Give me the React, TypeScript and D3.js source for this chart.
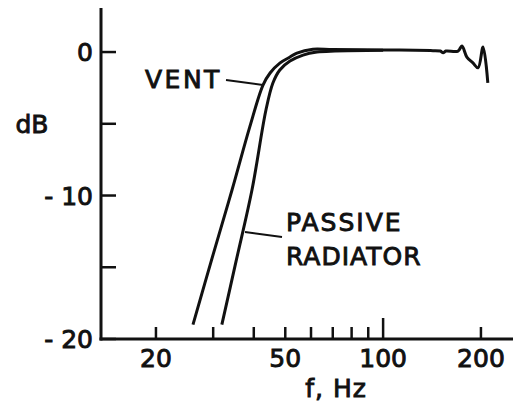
import React from 'react';
import * as d3 from 'd3';

// frequency response (Hz, dB)
const ventFreq = [26.0, 30, 34.3, 38.9, 42.7, 44.9, 48.1, 51.7, 54.3, 60.8, 70, 100, 140, 150, 153, 156, 170, 174.8, 181, 189, 196, 203, 210];
const ventDb = [-19.0, -14.1, -9.6, -5.2, -2.3, -1.46, -0.77, -0.35, -0.07, 0.2, 0.17, 0.15, 0.1, 0.07, -0.05, 0.07, 0.07, 0.42, -0.35, -0.76, -1.1, 0.35, -2.15];

const passiveFreq = [31.9, 35.3, 39.5, 43.6, 45.8, 48.1, 51.7, 56.7, 62.6, 71.1, 100];
const passiveDb = [-19.0, -14.56, -9.6, -4.04, -2.16, -1.25, -0.63, -0.21, 0, 0.07, 0.12];

const yTicks = [0, -5, -10, -15, -20];
const yTickLabels = ['0', '- 10', '- 20'];
const yLabelValues = [0, -10, -20];
const xTicks = [20, 30, 40, 50, 60, 70, 80, 90, 100, 200];
const xTickLabels = [20, 50, 100, 200];

const W = 517, H = 410;
const font = '"DejaVu Sans", sans-serif';

const App = () => {
  const x = d3.scaleLog().domain([13.55, 251]).range([101, 513]);
  const y = d3.scaleLinear().domain([-20, 3.07]).range([339, 8]);

  const line = d3.line<[number, number]>()
    .x(d => x(d[0]))
    .y(d => y(d[1]))
    .curve(d3.curveCatmullRom.alpha(0.5));

  const vent = line(ventFreq.map((f, i) => [f, ventDb[i]]));
  const passive = line(passiveFreq.map((f, i) => [f, passiveDb[i]]));

  const x0 = x.range()[0];
  const yBottom = y(-20);

  // lettering in the original is drawn with a heavy pen
  const txt = { fontSize: 25, stroke: '#111', strokeWidth: 0.9 };

  return (
    <svg width={W} height={H} style={{ position: 'absolute', left: 0, top: 0, background: '#fff' }}
      fontFamily={font} fill="#111">
      {/* axes */}
      <line x1={x0} x2={x0} y1={y.range()[1]} y2={yBottom + 1.5} stroke="#111" strokeWidth={3} />
      <line x1={x0 - 1.5} x2={x.range()[1]} y1={yBottom} y2={yBottom} stroke="#111" strokeWidth={3} />

      {yTicks.map(t => (
        <line key={t} x1={x0} x2={x0 + 15} y1={y(t)} y2={y(t)} stroke="#111" strokeWidth={2.5} />
      ))}
      {yLabelValues.map((v, i) => (
        <text key={v} x={93} y={y(v)} dy="0.36em" textAnchor="end" {...txt}>{yTickLabels[i]}</text>
      ))}
      <text x={32} y={y(-5)} dy="0.36em" textAnchor="middle" {...txt}>dB</text>

      {xTicks.map(t => (
        <line key={t} x1={x(t)} x2={x(t)} y1={yBottom} y2={yBottom - (t === 100 ? 21 : 12)} stroke="#111" strokeWidth={2.5} />
      ))}
      {xTickLabels.map(t => (
        <text key={t} x={x(t)} y={367} textAnchor="middle" {...txt}>{t}</text>
      ))}
      <text x={336} y={397} textAnchor="middle" letterSpacing={1} {...txt}>f,  Hz</text>

      {/* curves */}
      <path d={vent || ''} fill="none" stroke="#111" strokeWidth={3} strokeLinejoin="round" />
      <path d={passive || ''} fill="none" stroke="#111" strokeWidth={3} strokeLinejoin="round" />

      {/* annotations */}
      <text x={145} y={88} letterSpacing={2.5} {...txt}>VENT</text>
      <line x1={226} y1={80} x2={263} y2={85} stroke="#111" strokeWidth={2} />
      <text x={286} y={231} letterSpacing={2} {...txt}>PASSIVE</text>
      <text x={286} y={265} letterSpacing={1} {...txt}>RADIATOR</text>
      <line x1={245} y1={232} x2={282} y2={237} stroke="#111" strokeWidth={2} />
    </svg>
  );
};

export default App;
